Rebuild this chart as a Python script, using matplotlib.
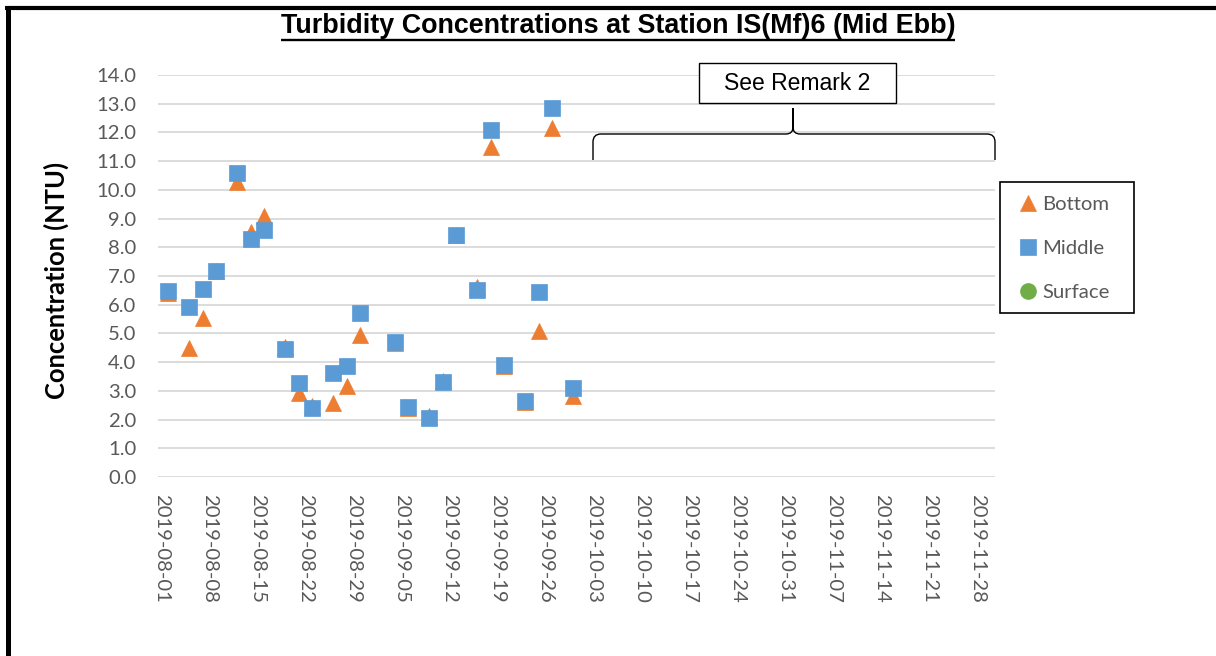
import matplotlib
matplotlib.use("Agg")
import matplotlib.pyplot as plt
import matplotlib.dates as mdates
from matplotlib.lines import Line2D
from matplotlib.patches import Rectangle, PathPatch
from matplotlib.path import Path
import numpy as np
import pandas as pd

# ---------------- data ----------------
dates = ["2019-08-02", "2019-08-05", "2019-08-07", "2019-08-09", "2019-08-12",
         "2019-08-14", "2019-08-16", "2019-08-19", "2019-08-21", "2019-08-23",
         "2019-08-26", "2019-08-28", "2019-08-30", "2019-09-04", "2019-09-06",
         "2019-09-09", "2019-09-11", "2019-09-13", "2019-09-16", "2019-09-18",
         "2019-09-20", "2019-09-23", "2019-09-25", "2019-09-27", "2019-09-30"]
bottom = [6.42, 4.49, 5.53, 7.19, 10.26, 8.54, 9.10, 4.53, 2.94, 2.46,
          2.57, 3.18, 4.93, 4.66, 2.42, 2.13, 3.35, 8.43, 6.62, 11.50,
          3.85, 2.62, 5.07, 12.14, 2.82]
middle = [6.48, 5.93, 6.54, 7.19, 10.59, 8.29, 8.60, 4.47, 3.26, 2.41,
          3.61, 3.87, 5.72, 4.71, 2.45, 2.07, 3.31, 8.43, 6.52, 12.10,
          3.91, 2.66, 6.43, 12.86, 3.11]
surface_dates = []
surface = []
series_names = ["Bottom", "Middle", "Surface"]
title_text = "Turbidity Concentrations at Station IS(Mf)6 (Mid Ebb)"
ylabel_text = "Concentration (NTU)"
remark_text = "See Remark 2"
x_start, x_end = "2019-08-01", "2019-11-28"

# ---------------- figure ----------------
W, H = 1216, 656
fig = plt.figure(figsize=(W / 100, H / 100), dpi=100)
fig.patch.set_facecolor("white")

def fx(x):
    return x / W

def fy(y):
    return 1 - y / H

GRAY = "#595959"

ax = fig.add_axes([fx(158), fy(477), fx(995) - fx(158), fy(75) - fy(477)])

xd = pd.to_datetime(dates)
ax.plot(xd, bottom, linestyle="none", marker="^", ms=11, color="#ED7D31",
        mec="#ED7D31", mew=0.5, label=series_names[0], zorder=3)
ax.plot(xd, middle, linestyle="none", marker="s", ms=11, color="#5B9BD5",
        mec="#5B9BD5", mew=0.5, label=series_names[1], zorder=4)
ax.plot(pd.to_datetime(surface_dates), surface, linestyle="none", marker="o",
        ms=11, color="#70AD47", mec="#70AD47", label=series_names[2], zorder=5)

t0 = pd.Timestamp(x_start)
ax.set_xlim(t0 - pd.Timedelta(hours=12), t0 + pd.Timedelta(days=121.5))
ax.set_ylim(0, 14)
ax.set_yticks(np.arange(0, 14.01, 1.0))
ax.yaxis.set_major_formatter(matplotlib.ticker.FormatStrFormatter("%.1f"))
ax.set_xticks(pd.date_range(x_start, x_end, freq="7D"))
ax.xaxis.set_major_formatter(mdates.DateFormatter("%Y-%m-%d"))

for s in ax.spines.values():
    s.set_visible(False)
ax.yaxis.grid(True, color="#d9d9d9", lw=1.3)
ax.set_axisbelow(True)
ax.tick_params(axis="both", length=0, colors=GRAY)
ax.tick_params(axis="y", pad=15.5)
ax.tick_params(axis="x", pad=12.5)
for lab in ax.get_yticklabels():
    lab.set_fontfamily("Lato"); lab.set_fontsize(14.6); lab.set_color(GRAY)
for lab in ax.get_xticklabels():
    lab.set_fontfamily("Lato"); lab.set_fontsize(14.6); lab.set_color(GRAY)
    lab.set_rotation(-90); lab.set_ha("center"); lab.set_va("top")

# y label
fig.text(fx(56), fy(280), ylabel_text, rotation=90, ha="center", va="center",
         family="Lato", weight="bold", size=18.4, color="black")

# title with underline
title = fig.text(fx(618), fy(33.3), title_text, ha="center", va="baseline",
                 family="Liberation Sans", weight="bold", size=19, color="black")
fig.canvas.draw()
r = fig.canvas.get_renderer()
bb = title.get_window_extent(r)
title.set_fontsize(19 * 676 / bb.width)
fig.canvas.draw()
bb = title.get_window_extent(r)
fig.add_artist(Line2D([bb.x0 / W, bb.x1 / W], [fy(39.5), fy(39.5)],
                      transform=fig.transFigure, color="black", lw=1.7,
                      solid_capstyle="butt"))

# outer frame (top and left heavy lines)
fig.add_artist(Line2D([fx(5), fx(W)], [fy(8), fy(8)], transform=fig.transFigure,
                      color="black", lw=3.0, solid_capstyle="butt"))
fig.add_artist(Line2D([fx(8), fx(8)], [fy(6), fy(H)], transform=fig.transFigure,
                      color="black", lw=3.6, solid_capstyle="butt"))

# legend
handles, labels = ax.get_legend_handles_labels()
leg = fig.legend(handles, labels, loc="upper left",
                 bbox_to_anchor=(fx(1018), fy(196)), bbox_transform=fig.transFigure,
                 frameon=False, borderpad=0, borderaxespad=0, handlelength=1.0,
                 handletextpad=0.2, labelspacing=1.32,
                 prop=dict(family="Lato", size=14.6))
for t in leg.get_texts():
    t.set_color(GRAY)
fig.add_artist(Rectangle((fx(1000), fy(313)), fx(1134) - fx(1000), fy(182) - fy(313),
                         transform=fig.transFigure, fill=False, edgecolor="black", lw=1.2))

# remark box
fig.add_artist(Rectangle((fx(699), fy(102.7)), fx(896) - fx(699), fy(62.7) - fy(102.7),
                         transform=fig.transFigure, facecolor="white",
                         edgecolor="black", lw=1.0, zorder=5))
fig.text(fx(797.5), fy(83), remark_text, ha="center", va="center",
         family="Liberation Sans", size=16.5, color="black", zorder=6)

# brace
pts = [(593, 160), (593, 142), (593, 134), (601, 134), (786, 134), (793, 134), (793, 127),
       (793, 108),
       (793, 127), (793, 134), (800, 134), (987, 134), (995, 134), (995, 142), (995, 160)]
codes = [Path.MOVETO, Path.LINETO, Path.CURVE3, Path.CURVE3, Path.LINETO, Path.CURVE3,
         Path.CURVE3, Path.LINETO,
         Path.LINETO, Path.CURVE3, Path.CURVE3, Path.LINETO, Path.CURVE3, Path.CURVE3,
         Path.LINETO]
path = Path([(fx(a), fy(b)) for a, b in pts], codes)
fig.add_artist(PathPatch(path, transform=fig.transFigure, fill=False,
                         edgecolor="black", lw=1.0))

fig.savefig("out.png", dpi=100)
